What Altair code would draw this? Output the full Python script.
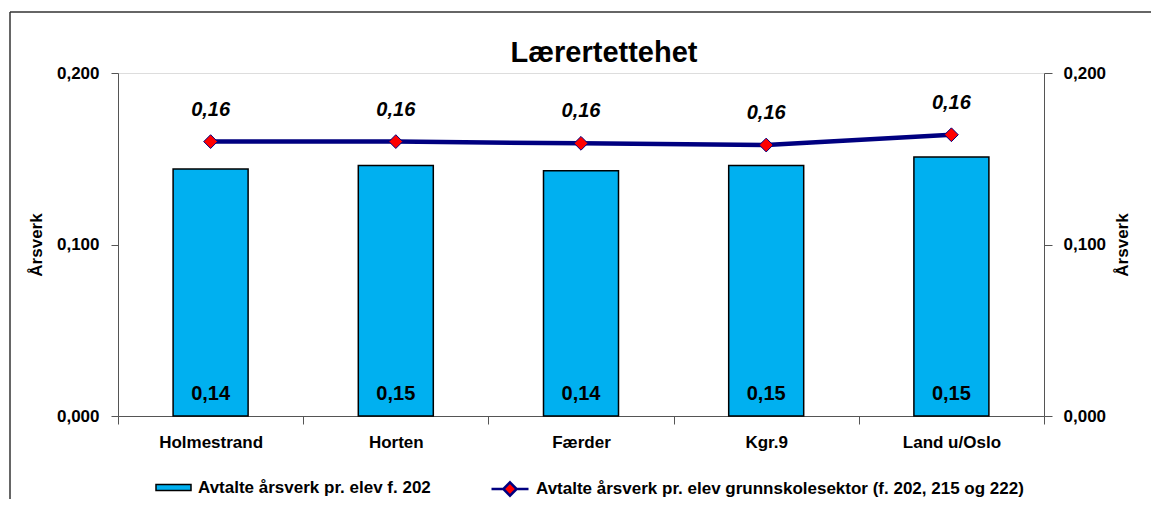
import altair as alt
import pandas as pd

categories = ["Holmestrand", "Horten", "Færder", "Kgr.9", "Land u/Oslo"]
bar_values = [0.144, 0.146, 0.143, 0.146, 0.151]
line_values = [0.160, 0.160, 0.159, 0.158, 0.164]
bar_name = "Avtalte årsverk pr. elev f. 202"
line_name = "Avtalte årsverk pr. elev grunnskolesektor (f. 202, 215 og 222)"
chart_title = "Lærertettehet"
y_ticks = [0, 0.1, 0.2]

FONT = "Liberation Sans"

df = pd.DataFrame({
    "kommune": categories,
    "bar": bar_values,
    "line": line_values,
    "s1": [bar_name] * len(categories),
    "s2": [line_name] * len(categories),
})

base = alt.Chart(df).transform_calculate(
    bar_lbl="replace(format(datum.bar, '.2f'), '.', ',')",
    line_lbl="replace(format(datum.line, '.2f'), '.', ',')",
)

x_enc = alt.X(
    "kommune:N", sort=categories, title=None,
    scale=alt.Scale(paddingInner=0, paddingOuter=0),
    axis=alt.Axis(tickBand="extent", labelAngle=0, tickSize=8, labelPadding=10,
                  labelFontSize=17, labelFont=FONT, labelFontWeight="bold",
                  labelColor="black", domainColor="#555555", tickColor="#555555"),
)

yscale = alt.Scale(domain=[0, 0.2], nice=False, zero=True)
label_expr = "replace(format(datum.value, '.3f'), '.', ',')"

left_axis = alt.Axis(
    orient="left", values=y_ticks, labelExpr=label_expr, grid=False,
    tickSize=7, labelPadding=12, labelFontSize=17, labelFont=FONT,
    labelFontWeight="bold", labelColor="black", domainColor="#555555",
    tickColor="#555555", title="Årsverk", titleFontSize=17, titleFont=FONT,
    titleFontWeight="bold", titleColor="black", titlePadding=11, titleAngle=270,
)
right_axis = alt.Axis(
    orient="right", values=y_ticks, labelExpr=label_expr, grid=False,
    tickSize=8, labelPadding=11, labelFontSize=17, labelFont=FONT,
    labelFontWeight="bold", labelColor="black", domainColor="#555555",
    tickColor="#555555", title="Årsverk", titleFontSize=17, titleFont=FONT,
    titleFontWeight="bold", titleColor="black", titlePadding=26, titleAngle=270,
)

bars = base.mark_bar(stroke="black", strokeWidth=1.5,
                     width=alt.RelativeBandSize(0.405)).encode(
    x=x_enc,
    y=alt.Y("bar:Q", scale=yscale, axis=left_axis),
    fill=alt.Fill("s1:N", scale=alt.Scale(domain=[bar_name], range=["#00B0F0"]),
                  legend=alt.Legend(
                      title=None, orient="none", legendX=37, legendY=396,
                      symbolType="M-1,-0.17L1,-0.17L1,0.17L-1,0.17Z",
                      symbolSize=1225, symbolStrokeColor="black",
                      symbolStrokeWidth=1.5, labelFontSize=17, labelFont=FONT,
                      labelFontWeight="bold", labelColor="black",
                      labelOffset=6, labelLimit=0)),
)

bar_text = base.mark_text(font=FONT, fontSize=20, fontWeight="bold",
                          baseline="bottom", dy=-12, color="black").encode(
    x=alt.X("kommune:N", sort=categories),
    y=alt.datum(0),
    text="bar_lbl:N",
)

title_df = pd.DataFrame({"t": [chart_title]})
title_mark = alt.Chart(title_df).mark_text(
    font=FONT, fontSize=29, fontWeight="bold", color="black",
    baseline="alphabetic", align="center",
).encode(x=alt.value(486), y=alt.value(-11), text="t:N")

frame_left = alt.Chart(title_df).mark_rule(color="#333333", strokeWidth=1.5).encode(
    x=alt.value(-108), y=alt.value(-61), y2=alt.value(600))
frame_top = alt.Chart(title_df).mark_rule(color="#333333", strokeWidth=1.5).encode(
    x=alt.value(-108), x2=alt.value(1200), y=alt.value(-61))

left = alt.layer(bars, bar_text)

line = base.mark_line(strokeWidth=4.5, color="#000080").encode(
    x=alt.X("kommune:N", sort=categories),
    y=alt.Y("line:Q", scale=yscale, axis=right_axis),
)
points = base.mark_point(shape="diamond", filled=True, fill="red",
                         strokeWidth=1, size=190, opacity=1).encode(
    x=alt.X("kommune:N", sort=categories),
    y=alt.Y("line:Q", scale=yscale),
    stroke=alt.Stroke("s2:N", scale=alt.Scale(domain=[line_name], range=["#000080"]),
                      legend=alt.Legend(
                          title=None, orient="none", legendX=372, legendY=396,
                          symbolType="M-1,0L-0.36,0M0.36,0L1,0M0,-0.36L0.36,0L0,0.36L-0.36,0Z",
                          symbolSize=1369, symbolStrokeWidth=2.5,
                          symbolFillColor="red", labelFontSize=17, labelFont=FONT,
                          labelFontWeight="bold", labelColor="black",
                          labelOffset=6, labelLimit=0)),
)
line_text = base.mark_text(font=FONT, fontSize=20, fontWeight="bold",
                           fontStyle="italic", baseline="bottom", dy=-22,
                           color="black").encode(
    x=alt.X("kommune:N", sort=categories),
    y=alt.Y("line:Q", scale=yscale),
    text="line_lbl:N",
)
right = alt.layer(line, points, line_text)

chart = alt.layer(frame_left, frame_top, title_mark, left, right).resolve_scale(
    y="independent"
).properties(
    width=926, height=343,
    autosize=alt.AutoSizeParams(type="none"),
    padding={"left": 110, "top": 65, "right": 107, "bottom": 83},
).configure_view(
    fill="#F0F0F0", stroke="#888888", strokeWidth=1.5
).configure(background="white")

chart.save("out.html", embed_options={"renderer": "svg", "actions": False})
